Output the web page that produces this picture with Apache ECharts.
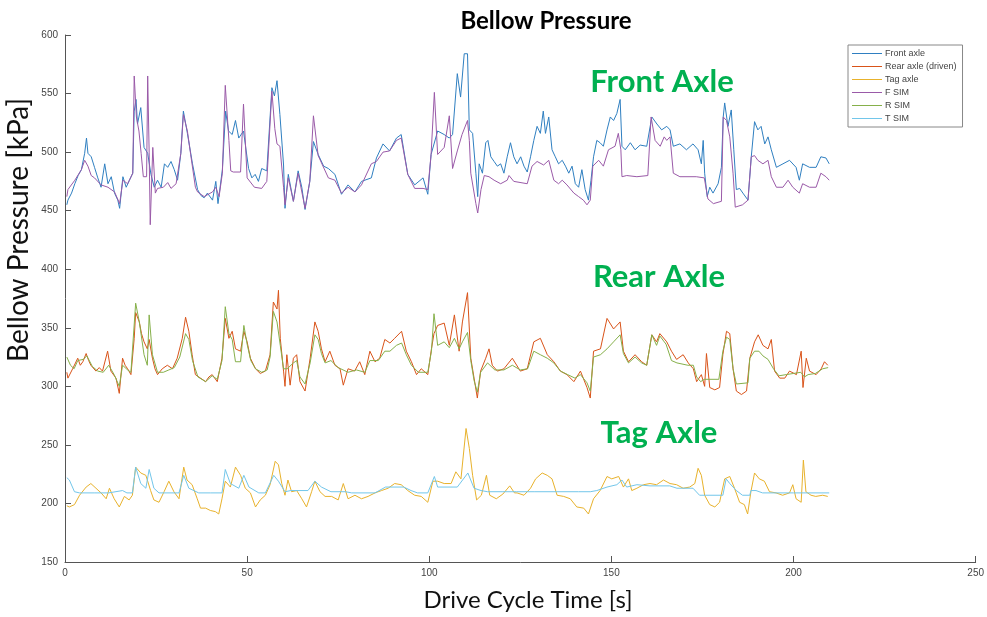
<!DOCTYPE html>
<html><head><meta charset="utf-8">
<script src="https://cdn.jsdelivr.net/npm/echarts@6/dist/echarts.min.js"></script>
<style>html,body{margin:0;padding:0;background:#fff}#c{width:987px;height:617px}</style>
</head><body><div id="c"></div>
<script>
// ---- Data (time [s], pressure [kPa]) ----
const seriesNames = ['Front axle','Rear axle (driven)','Tag axle','F SIM','R SIM','T SIM'];
const xTicks = [0,50,100,150,200,250];
const yTicks = [150,200,250,300,350,400,450,500,550,600];

const frontT = [0.5,0.8,1.8,2.7,3.6,4.5,5.4,5.9,6.3,7.2,8.1,9,9.9,10.9,11.8,12.7,13.6,14.5,15,15.9,16.8,17.7,18.6,19,19.5,19.9,20.8,21.7,22.7,23.6,24.5,25.4,26.4,27.3,28.2,29.1,30,30.9,31.8,32.5,33.6,35,36.4,37.3,38.2,39.1,40.5,41.4,42,43.2,44.1,44.9,45.9,46.8,47.7,49,50.4,51.3,52.2,53.1,54,55.4,56.8,57.5,58.2,59,60,60.4,61.3,62.7,64,65,65.9,67.2,68.2,69.5,71,72.3,74.1,75.9,77.7,79.6,81.4,84.1,85.5,87.3,89.1,91,92.3,94.1,96,98.3,99.6,100.5,102.3,104.1,105.5,106.4,107.7,108.6,109.6,110.5,111,111.9,112.8,113.3,113.7,114.6,115.5,116.1,116.9,117.8,118.7,119.6,120.5,121.4,122.3,123.2,124.1,125.1,126,126.9,127.8,128.7,129.6,130.5,131.3,131.9,132.8,133.7,134.6,135.5,136.5,137.4,138.3,139.2,140.1,141,141.9,142.8,143.7,144.4,145.1,146,146.9,147.8,148.8,149.7,150.6,151.5,152.4,152.9,153.8,155.2,156.5,157.9,159.7,161.1,162.5,163.8,165.2,166.1,167,168.8,170.6,172.4,173.8,174.7,175.2,175.6,176.3,177,177.9,179.3,180.2,180.7,181.1,182,182.9,183.6,184.3,185.2,186.1,187.5,188.4,189.3,190.2,191.1,192.1,193,193.9,195.3,197.1,198.9,200.7,201.6,202.5,204.4,206.2,207.5,208.9,209.8];
const frontV = [455,459,465,473,480,485,499,512,499,496,487,478,470,490,473,479,465,459,452,479,470,476,482,535,545,524,538,504,499,481,470,476,470,490,487,492,485,476,499,535,516,490,468,463,461,465,459,475,456,485,535,518,515,527,512,518,486,478,481,475,486,484,555,548,561,532,489,452,481,458,484,470,451,475,509,498,488,486,481,464,472,466,475,478,495,507,501,512,515,481,472,478,464,498,518,515,512,515,567,547,584,584,519,516,482,462,490,482,508,510,496,492,488,490,482,496,508,496,490,496,488,483,496,510,522,516,535,516,530,502,496,490,493,488,482,488,473,470,485,468,459,476,496,510,508,505,519,530,527,533,545,505,502,508,502,506,505,530,524,519,522,519,505,507,502,507,502,490,510,482,462,470,465,473,487,530,542,522,536,502,468,469,465,459,496,526,519,522,507,513,502,487,490,493,487,476,490,487,487,496,495,490];

const rearT = [0.5,0.8,2.1,3.5,4.2,4.9,5.8,6.5,7.1,8.5,9.4,10.3,11.7,12.6,14,14.9,15.8,16.5,17.2,18.1,19,19.4,20.4,21,21.7,22.6,23.1,24,24.7,25.4,26.7,28.1,29.5,30.8,32.2,33.1,34,34.9,35.8,37.2,38.6,39.5,40.4,41.8,43.1,44,45,45.9,46.8,48.2,49.1,50,50.9,52.3,53.6,55,56.3,57.2,58.2,58.6,59.1,60,60.4,60.9,61.8,62.7,63.6,64.5,65.9,67.3,68.6,69.5,70.4,71.4,72.7,74.1,75.5,76.4,77.7,79.5,80.9,82.3,83.7,85.1,86.4,87.8,89.2,90.5,92.4,93.7,95.1,96.5,97.8,99.6,100.6,101.3,102.3,104.1,105.5,106.9,108.2,109.1,110.5,111.4,112.3,113.2,114.1,115.5,116.4,117.3,118.7,120.5,122.8,125,126.9,128.7,130.5,132.4,134.2,136,137.8,139.7,141.5,143.3,144.2,145.1,147,148.8,150.6,152.4,153.3,154.7,156.5,158.3,159.7,161.1,162.4,163.3,165.2,166.5,167.9,169.7,171.1,172.5,173.4,174.7,175.6,176.1,177,178.4,179.7,180.6,181.6,182.5,183.4,184.3,185.7,187.1,188,189.3,190.3,191.6,193,193.9,194.8,196.2,197.6,198.9,200.8,202.1,202.6,203.5,204.4,206.2,207.6,208.5,209.4];
const rearV = [312,307,315,324,318,321,328,322,318,313,316,313,330,313,307,294,324,318,315,310,341,363,355,345,338,332,340,324,315,310,315,318,315,324,341,359,347,327,310,307,304,308,310,304,324,358,341,347,332,330,347,338,324,315,311,313,327,372,366,382,341,313,300,327,301,324,327,304,296,324,355,347,332,321,330,318,315,301,315,313,321,310,330,321,324,340,337,341,347,330,321,310,315,310,332,345,352,354,335,361,330,355,380,324,307,290,313,324,332,318,313,315,324,313,315,338,341,327,321,313,310,304,313,299,290,330,332,358,349,355,330,321,327,321,318,344,338,345,338,330,323,327,320,315,304,310,300,328,299,297,299,327,347,345,315,296,293,296,324,338,344,335,332,340,313,307,307,313,310,330,299,324,313,310,315,321,318];

const tagT = [0.5,1.2,2.6,4,5.8,7.1,8.5,9.9,11.3,12.2,13.5,14.9,16.3,17.6,18.5,19.4,20.8,22.2,23.5,24.4,25.8,27.2,28.5,29.9,31.3,32.6,33.5,34.9,36.3,37.2,38.6,39.9,41.3,42.2,43.1,44,45.4,46.8,48.2,49.5,50.9,52.3,53.6,55,56.3,57.7,58.6,59.5,60.4,61.2,62.2,63.6,65,66.3,67.7,68.6,70,71.4,73.2,75,76.4,77.7,79.6,81.4,83.2,85.1,86.9,88.7,90.5,92.3,94.1,96,97.8,99.6,101,102.3,104.1,106,107.3,108.7,110.1,111,111.9,113,114.3,115.7,116.6,118.4,120.2,122.1,123.4,124.1,126,127.8,129.2,131,132.4,133.7,135.1,136.9,138.7,140.5,142.4,143.7,145.1,146.9,148.8,150.1,152,153.3,154.7,155.6,157,158.8,160.6,162.4,164.3,166.1,167.9,169.7,171.5,172.9,173.8,174.7,175.6,177,178.4,179.7,181.1,182.5,183.8,185.2,186.5,187.4,188.3,189.3,190.6,192,193.4,195.2,197,198.9,199.8,200.7,202.1,202.7,203.4,204.8,206.1,208,209.4];
const tagV = [198,197,199,207,214,217,213,209,204,213,204,197,206,203,207,231,226,224,211,203,201,210,219,210,204,231,220,216,204,196,196,194,193,191,204,219,214,231,224,213,209,197,203,207,216,236,233,217,207,220,210,211,204,197,210,219,210,206,206,203,217,204,207,204,206,209,211,213,217,216,211,207,206,201,219,219,217,217,227,221,264,247,224,203,207,224,207,204,208,215,209,209,207,213,221,226,224,221,207,206,204,197,196,191,204,211,223,221,223,214,221,211,213,216,217,216,220,217,216,213,214,217,230,224,207,199,197,201,221,223,213,201,199,191,210,226,221,219,210,209,207,209,216,204,201,237,210,207,206,207,206];

const fSimT = [0.5,0.8,2.7,4.5,5.4,6.3,7.2,8.1,9.9,11.8,13.6,15,15.9,17.2,18.6,19,19.6,20.3,20.9,21.5,22.4,22.7,23.1,23.4,24.1,24.8,25.4,27,28.2,29.1,30.5,31.8,32.5,33.6,34.5,35.8,36.4,38.2,40.5,41.4,42.3,43.2,44,45,45.5,46.2,48.2,49,50,52,54,55.4,56.8,57.6,58.2,59,60,60.4,61.3,62.7,64,65.9,67.2,68.2,69.5,72.3,74.1,75.9,77.7,79.6,81.4,84.1,85.5,87.3,89.1,91,92.3,94.1,96,98.3,99.6,100.5,101.4,102.3,104.1,105.5,106.4,107.7,109,110.5,111,111.4,112.8,113.3,114.2,115.1,116.4,117.8,119.6,121.4,121.9,123.2,126.9,128.2,129.6,131.4,132.8,134.2,135.5,136.5,137.8,139.7,141,142.3,143.3,144.2,144.9,146.5,147.8,149.2,151,151.9,152.6,152.9,154.2,157,160,160.9,162,163.4,164.5,165.2,166.1,167,168.8,173.3,175.5,176.5,178,180.2,180.7,181.6,182.5,183.4,184,186,187.5,188.4,189.3,190.2,191.6,193,193.9,195.3,197.1,198.5,199.8,201.6,202.5,204.4,206.2,207.5,208.9,209.8];
const fSimV = [462,468,476,485,493,488,480,478,472,470,466,456,476,473,482,565,530,518,499,479,479,565,500,438,504,465,469,470,474,469,473,499,532,518,498,470,466,462,466,470,462,482,557,510,484,483,483,541,478,470,469,475,552,520,507,505,470,455,478,458,482,452,475,531,497,478,476,465,470,466,472,490,492,500,501,510,512,481,469,469,468,498,551,498,504,531,486,501,515,527,510,482,456,448,468,480,479,476,473,476,480,475,473,488,492,489,493,476,473,476,472,465,462,459,455,459,488,493,488,502,505,516,502,479,480,479,480,530,510,505,513,510,513,482,479,479,478,460,456,458,530,527,513,482,453,455,459,496,497,493,490,493,479,470,470,476,470,465,473,470,470,482,479,476];

const rSimT = [0.5,1.5,2.5,3.5,5,6,7.5,9,10.5,12,13.5,14.9,15.8,17.2,18.1,19.4,20.4,21.7,22.6,23.1,24,25.4,27,28.5,30,31.5,33.1,34,35,36.5,38.6,40.4,41.8,43.1,44,45,45.9,46.8,48.2,49.1,50,51,52.3,54,55.5,56.3,57.2,58.2,59.1,60,61,62.7,63.6,64.5,65.9,67.3,68.6,69.5,70.4,71.4,73,75,77.7,80,82.3,83.7,86,87.8,89.2,91,92.4,93.7,95.1,97,99.6,100.6,101.3,102.3,104.1,105.5,106.9,108.2,109.1,110.5,111.4,112.3,113.2,114.1,116,118,120.5,122.8,125,127,128.7,130.5,132.4,134.2,136,138,140,141.5,143.3,144.2,145.1,147,148.8,150.6,152.4,153.3,154.7,156.5,158.3,159.7,161.1,162.4,163.3,165,166.5,168,171,172.5,173.4,174.5,175.5,179.5,180.6,181.6,182.5,183.4,184.3,187.5,188,189.3,190.5,191.6,193,194.5,196,198,200,202,203,204,206,208,209.5];
const rSimV = [325,318,315,322,323,326,317,313,312,318,310,300,318,314,312,371,355,327,318,361,327,312,312,314,316,325,345,340,322,308,304,309,306,322,368,345,340,321,321,352,336,322,315,312,314,325,364,355,335,315,315,320,322,308,302,320,344,340,328,320,322,316,312,314,312,322,322,330,330,335,337,327,318,312,312,330,362,335,338,333,341,332,338,346,322,305,295,312,320,314,314,318,314,315,330,327,324,320,313,310,307,310,303,296,325,327,332,338,344,328,320,325,320,318,344,335,343,336,322,320,318,318,308,304,306,306,330,342,340,315,302,303,324,330,330,326,323,315,309,310,311,312,308,310,311,315,316];

const tSimT = [0.5,1.2,2.6,4,8,12,15.8,17,18.5,19.4,20.8,22.2,23.1,24.4,25.8,28,31.3,32.6,34,36.7,40,43.1,44,45.4,47.7,49.1,50.5,53.2,55,57.3,58.6,60.4,62,66.7,68.6,70.4,73,77,78.7,85.1,88,93,95,96.8,99.6,101.4,102.3,107.7,110.6,112.3,114.2,116,120,124,129,135,141,144.2,146,148.8,151.5,152.9,154.2,157,160.6,166,168,172.4,174.2,180.6,181.5,182.5,184.3,186,188,188.3,189.7,191.5,200,209.8];
const tSimV = [222,220,210,209,209,209,211,209,209,231,217,213,229,213,209,209,209,224,213,209,209,209,229,217,213,224,214,209,209,224,219,210,211,211,219,214,210,210,209,209,214,214,211,209,209,223,214,214,226,213,211,210,210,210,210,210,210,210,211,214,216,220,214,216,215,215,213,213,207,207,221,217,211,207,207,211,211,209,209,209];

const seriesTimes = [frontT, rearT, tagT, fSimT, rSimT, tSimT];
const seriesValues = [frontV, rearV, tagV, fSimV, rSimV, tSimV];
const colors = ['#2f7fc1','#d95319','#e8b22c','#9a5aa8','#86b04a','#72c6ea'];

function pairs(t, v){ return t.map((x,i)=>[x, v[i]]); }

const chart = echarts.init(document.getElementById('c'), null, {renderer:'canvas'});
const axisFont = 'Liberation Sans, Arial, sans-serif';
chart.setOption({
  animation:false,
  backgroundColor:'#fff',
  grid:{left:65, right:7, top:35, bottom:55, containLabel:false},
  xAxis:{type:'value', min:xTicks[0], max:xTicks[xTicks.length-1], interval:50,
    axisLine:{lineStyle:{color:'#555', width:1}},
    axisTick:{inside:true, length:6, lineStyle:{color:'#555'}},
    axisLabel:{color:'#444', fontSize:10, fontFamily:axisFont, margin:6},
    splitLine:{show:false}},
  yAxis:{type:'value', min:yTicks[0], max:yTicks[yTicks.length-1], interval:50,
    axisLine:{show:true, lineStyle:{color:'#555', width:1}},
    axisTick:{show:true, inside:true, length:6, lineStyle:{color:'#555'}},
    axisLabel:{color:'#444', fontSize:10, fontFamily:axisFont, margin:7},
    splitLine:{show:false}},
  legend:{orient:'vertical', left:848, top:45, width:114,
    data:seriesNames, icon:'path://M0,4 L30,4 L30,5 L0,5 Z',
    itemWidth:30, itemHeight:9, itemGap:4,
    padding:[4,6,4,4], borderColor:'#888', borderWidth:1, backgroundColor:'#fff',
    textStyle:{fontSize:9, color:'#444', fontFamily:axisFont, padding:[0,0,0,-2]}},
  series: seriesNames.map((n,i)=>({
    name:n, type:'line', data:pairs(seriesTimes[i], seriesValues[i]),
    symbol:'none', lineStyle:{width:1, color:colors[i]}, itemStyle:{color:colors[i]},
    z: 2+i
  })),
  graphic:[
    {type:'text', x:546, y:21, style:{text:'Bellow Pressure', font:'bold 24px Lato, sans-serif', fill:'#000', align:'center', verticalAlign:'middle'}},
    {type:'text', x:19, y:230, rotation:Math.PI/2, style:{text:'Bellow Pressure [kPa]', font:'28px Lato, sans-serif', fill:'#111', align:'center', verticalAlign:'middle'}},
    {type:'text', x:528, y:600, style:{text:'Drive Cycle Time [s]', font:'24px Lato, sans-serif', fill:'#111', align:'center', verticalAlign:'middle'}},
    {type:'text', x:662, y:82, style:{text:'Front Axle', font:'bold 31px Lato, sans-serif', fill:'#00b050', align:'center', verticalAlign:'middle'}},
    {type:'text', x:659, y:277, style:{text:'Rear Axle', font:'bold 31px Lato, sans-serif', fill:'#00b050', align:'center', verticalAlign:'middle'}},
    {type:'text', x:659, y:433, style:{text:'Tag Axle', font:'bold 31px Lato, sans-serif', fill:'#00b050', align:'center', verticalAlign:'middle'}}
  ]
});
</script>
</body></html>
